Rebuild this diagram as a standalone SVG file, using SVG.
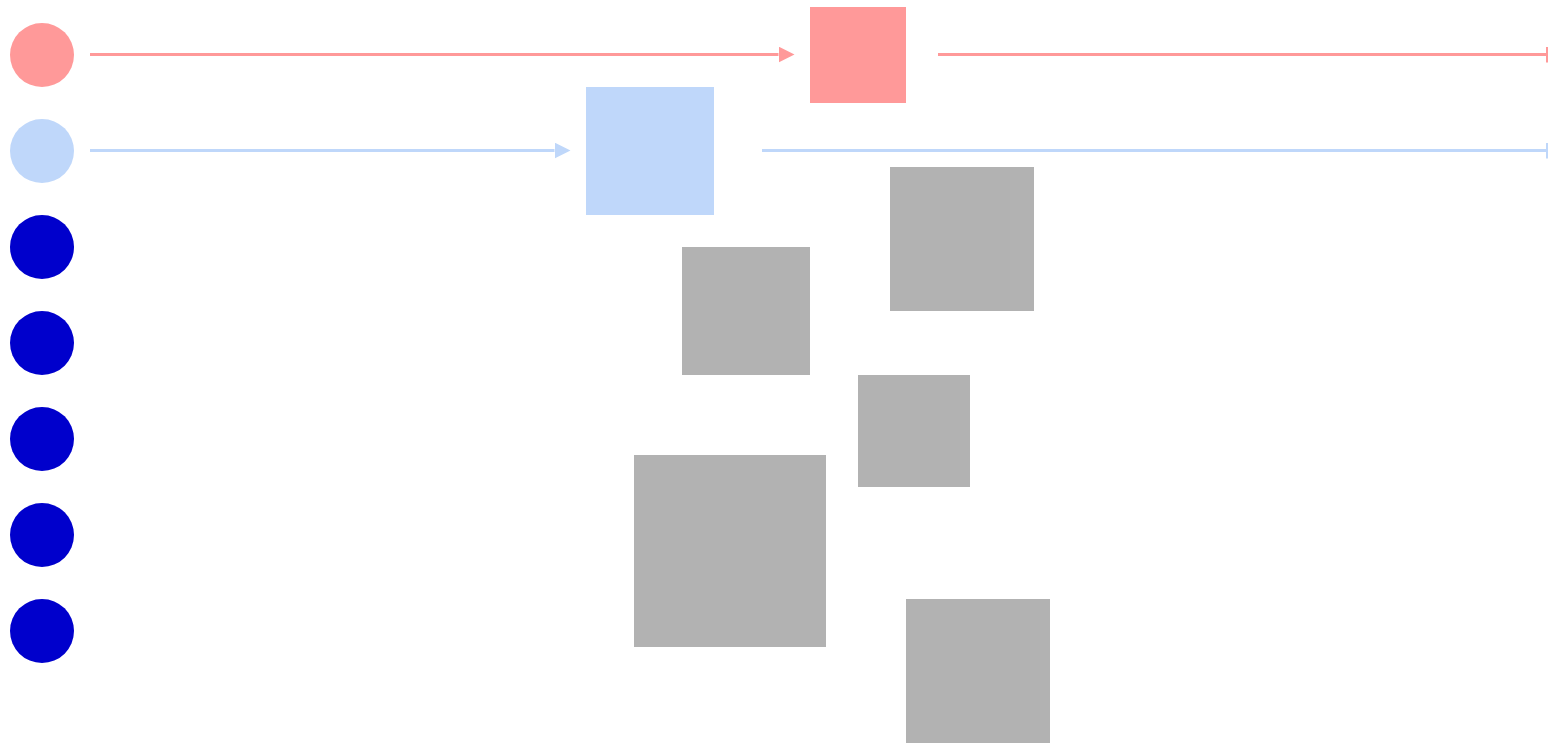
<svg xmlns="http://www.w3.org/2000/svg" width="1548" height="743" viewBox="0 0 1548 743">
<style>
.red{fill:#ff9999}
.blue{fill:#bfd7fa}
.dark{fill:#0000cc}
.gray{fill:#b2b2b2}
.lr{stroke:#ff9999;stroke-width:3;fill:none}
.lb{stroke:#bfd7fa;stroke-width:3;fill:none}
</style>
<defs>
<marker id="ar" markerUnits="userSpaceOnUse" markerWidth="16" markerHeight="16" refX="0" refY="8" orient="auto" viewBox="0 0 16 16"><path d="M0,0 L16,8 L0,16 z" fill="#ff9999"/></marker>
<marker id="ab" markerUnits="userSpaceOnUse" markerWidth="16" markerHeight="16" refX="0" refY="8" orient="auto" viewBox="0 0 16 16"><path d="M0,0 L16,8 L0,16 z" fill="#bfd7fa"/></marker>
<marker id="tr" markerUnits="userSpaceOnUse" markerWidth="2" markerHeight="16" refX="1" refY="8" orient="auto" viewBox="0 0 2 16"><rect x="0" y="0" width="2" height="16" fill="#ff9999"/></marker>
<marker id="tb" markerUnits="userSpaceOnUse" markerWidth="2" markerHeight="16" refX="1" refY="8" orient="auto" viewBox="0 0 2 16"><rect x="0" y="0" width="2" height="16" fill="#bfd7fa"/></marker>
</defs>
<rect width="1548" height="743" fill="#ffffff"/>
<g id="connectors">
<path class="lr" d="M90,54.5 L778.5,54.5" marker-end="url(#ar)"/>
<path class="lr" d="M938,54.5 L1547,54.5" marker-end="url(#tr)"/>
<path class="lb" d="M90,150.5 L554.5,150.5" marker-end="url(#ab)"/>
<path class="lb" d="M762,150.5 L1547,150.5" marker-end="url(#tb)"/>
</g>
<g id="c1"><circle class="red" cx="42" cy="55" r="32"/></g>
<g id="c2"><circle class="blue" cx="42" cy="151" r="32"/></g>
<g id="c3"><circle class="dark" cx="42" cy="247" r="32"/></g>
<g id="c4"><circle class="dark" cx="42" cy="343" r="32"/></g>
<g id="c5"><circle class="dark" cx="42" cy="439" r="32"/></g>
<g id="c6"><circle class="dark" cx="42" cy="535" r="32"/></g>
<g id="c7"><circle class="dark" cx="42" cy="631" r="32"/></g>
<g id="r1"><rect class="red" x="810" y="7" width="96" height="96"/></g>
<g id="r2"><rect class="blue" x="586" y="87" width="128" height="128"/></g>
<g id="g1"><rect class="gray" x="890" y="167" width="144" height="144"/></g>
<g id="g2"><rect class="gray" x="682" y="247" width="128" height="128"/></g>
<g id="g3"><rect class="gray" x="858" y="375" width="112" height="112"/></g>
<g id="g4"><rect class="gray" x="634" y="455" width="192" height="192"/></g>
<g id="g5"><rect class="gray" x="906" y="599" width="144" height="144"/></g>
</svg>
